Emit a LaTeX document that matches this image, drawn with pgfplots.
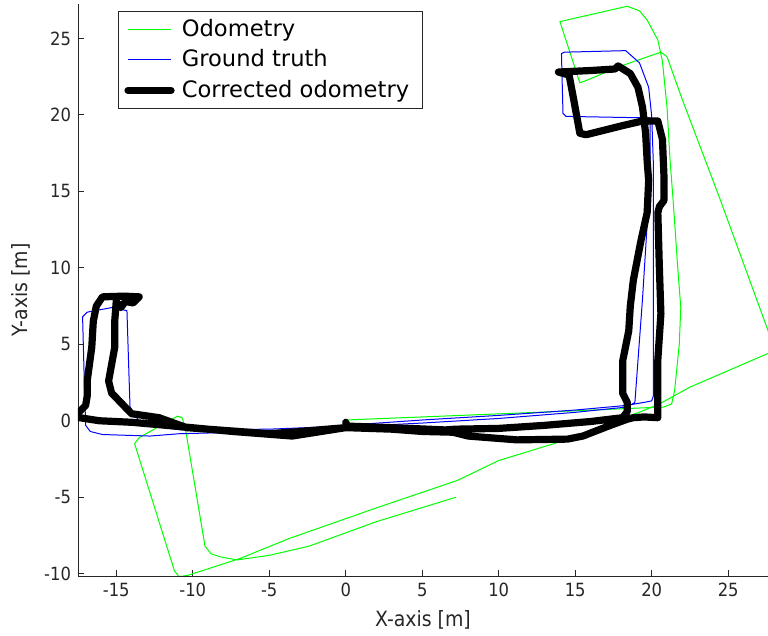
\documentclass[border=0pt]{standalone}
\usepackage{pgfplots}
\pgfplotsset{compat=1.18}
\usepackage{fontspec}
\setmainfont{DejaVu Sans}
\newfontfamily\condfont{DejaVu Sans Condensed}
\definecolor{axgray}{gray}{0.15}
\definecolor{odo}{rgb}{0,1,0}
\definecolor{gt}{rgb}{0,0,1}
\begin{document}
\begin{tikzpicture}
\begin{axis}[
  name=ax,
  scale only axis,
  width=345pt, height=286pt,
  xmin=-17.5, xmax=27.6, ymin=-10.15, ymax=27.25,
  axis x line*=bottom, axis y line*=left,
  axis line style={axgray, line width=0.4pt},
  tick align=inside,
  major tick length=3pt,
  tick style={axgray, line width=0.4pt},
  xtick={-15,-10,...,25}, ytick={-10,-5,...,25},
  /pgf/number format/assume math mode=true,
  ticklabel style={font=\condfont\fontsize{9.1}{10}\selectfont, text=axgray},
  xlabel={X-axis [m]}, ylabel={Y-axis [m]},
  label style={font=\condfont\fontsize{10.5}{12}\selectfont, text=axgray},
  legend cell align=left,
  legend style={at={(0.058,0.988)}, anchor=north west, draw=axgray, line width=0.4pt,
    font=\fontsize{11.3}{13}\selectfont, row sep=1.2pt, inner xsep=3pt, inner ysep=2pt,
    nodes={inner xsep=3.6pt}},
  legend image code/.code={\draw[#1] (0pt,0pt) -- (21.5pt,0pt);},
]
\addplot[odo, line width=0.5pt, line join=round] coordinates {
(0,0.05) (5,0.25) (10,0.45) (15,0.65) (18.4,0.8) (20.8,0.9) (21.3,1.1) (21.5,2) (21.8,5) (21.9,7.4) (21.7,10) (21.4,14.4) (21.2,17) (21.0,20.5) (20.7,23.5) (20.4,24.9) (19.7,26.2) (19.2,26.8) (18.4,27.1) (14.0,26.1) (15.3,22.1) (15.6,22.2) (18.0,23.2) (20.6,24.1) (21.0,23.8) (22,21) (24.5,14.4) (27.6,5.9) (28.0,4.8) (27.6,4.4) (22.5,2.2) (20.5,1.1) (19.3,0.6) (17.3,-0.1) (14.9,-1.1) (10,-2.6) (7.3,-3.9) (2,-5.7) (-3.7,-7.7) (-6.9,-9.0) (-10.3,-10.1) (-10.9,-10.2) (-11.2,-9.8) (-13.8,-1.5) (-13.5,-1.1) (-11.0,0.3) (-10.7,0.2) (-10.5,-0.4) (-9.2,-8.2) (-8.8,-8.7) (-8.2,-8.9) (-7.1,-9.1) (-5,-8.8) (-2.4,-8.2) (2,-6.6) (7.2,-5.0)
};
\addlegendentry{Odometry}
\addplot[gt, line width=0.5pt, line join=round] coordinates {
(0,-0.3) (5,0.05) (10,0.35) (15,0.7) (18.3,1.0) (19.5,1.2) (20.0,1.3) (20.1,1.6) (20.1,10) (20.1,17) (20.0,19.9) (19.8,21.8) (19.2,23.4) (18.3,24.2) (14.3,24.1) (14.1,24.0) (14.2,20.1) (14.4,19.9) (19.9,19.8) (19.9,17) (19.8,14.4) (19.4,8) (18.9,1.2) (18.4,0.9) (15,0.55) (10,0.15) (5,-0.15) (0,-0.4) (-5,-0.7) (-10.9,-0.85) (-12.8,-1.0) (-15.9,-0.9) (-16.7,-0.7) (-17.0,-0.3) (-17.1,3) (-17.2,6.8) (-16.9,7.1) (-15.3,7.4) (-14.3,7.2) (-14.2,4) (-14.1,0.9) (-13.6,0.1) (-13.2,-0.3) (-10.7,-0.6) (-5,-0.55) (0,-0.35)
};
\addlegendentry{Ground truth}
\addplot[black, line width=3.6pt, line join=round, line cap=round] coordinates {
(0,-0.1) (0.1,-0.35) (3,-0.45) (6.5,-0.6) (7.2,-0.55) (10,-0.5) (13,-0.3) (16,-0.05) (18.1,0.2) (18.4,0.6) (18.4,1.2) (18.1,1.8) (18.1,3.9) (18.5,5.9) (18.6,7.5) (18.8,9.2) (19.3,11.8) (19.7,13.6) (19.8,15.7) (19.7,17) (19.6,18.8) (19.4,20.5) (19.1,21.8) (18.6,22.7) (17.8,23.2) (17.6,23.0) (16,22.9) (13.9,22.8) (14.6,22.6) (14.9,21) (15.3,18.8) (15.7,18.7) (18.1,19.3) (19.4,19.6) (20.4,19.6) (20.7,18.4) (20.8,16) (20.8,14.4) (20.5,14.0) (20.4,13.6) (20.5,10) (20.6,7) (20.4,4) (20.4,2.6) (20.4,0.2) (19.5,0.25) (18.8,0.2) (18.4,0.1) (17.3,-0.3) (15.5,-1.0) (14.5,-1.2) (11.2,-1.25) (8,-1.0) (7,-0.75) (5,-0.7) (3,-0.55) (0,-0.45) (-3.5,-1.0) (-7.4,-0.7) (-11.7,-0.3) (-14,-0.1) (-16.1,0.0) (-17.4,0.2) (-17.5,0.5) (-17.0,1.0) (-16.9,1.6) (-16.9,2.6) (-16.6,4.8) (-16.5,6.5) (-16.3,7.5) (-15.9,8.1) (-14.5,8.15) (-13.5,8.1) (-13.9,7.7) (-14.4,7.8) (-14.7,7.4) (-15.0,7.8) (-15.1,6.5) (-15.1,4.8) (-15.5,2.6) (-15.3,1.8) (-15.0,1.5) (-14.0,0.46) (-12.2,0.2) (-10.4,-0.45) (-7,-0.7) (-5,-0.85) (-3,-0.7) (0,-0.45)
};
\addlegendentry{Corrected odometry}
\end{axis}
\pgfresetboundingbox
\path ([xshift=-39pt,yshift=-30pt]ax.south west) rectangle ([yshift=2pt]ax.north east);
\end{tikzpicture}
\end{document}
